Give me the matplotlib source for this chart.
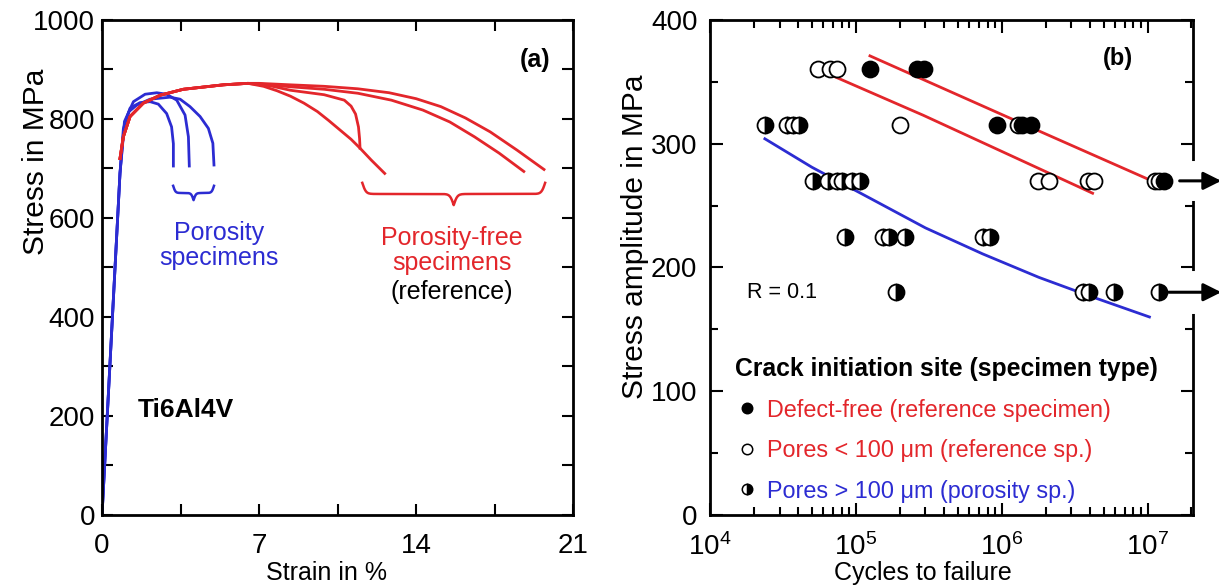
import matplotlib
matplotlib.use('Agg')
import matplotlib.pyplot as plt
import numpy as np
from matplotlib.lines import Line2D
from matplotlib.ticker import MultipleLocator, LogLocator, NullFormatter

plt.rcParams['font.family'] = ['Liberation Sans', 'DejaVu Sans']
plt.rcParams['mathtext.default'] = 'regular'
plt.rcParams['font.size'] = 20

RED = '#e3262b'
BLUE = '#2c2cd2'

# ---- (a) tensile curves: strain in %, stress in MPa ----
blue_a_strain = [0, 0.8, 0.95, 1.25, 1.69, 2.14, 2.51, 2.88, 3.10, 3.18, 3.18]
blue_a_stress = [0, 690, 780, 822, 833, 835, 830, 811, 784, 750, 705]
blue_b_strain = [0, 0.8, 1.0, 1.40, 1.92, 2.44, 2.88, 3.33, 3.70, 3.85, 3.89]
blue_b_stress = [0, 690, 795, 835, 850, 853, 850, 838, 808, 764, 705]
blue_c_strain = [0, 0.8, 1.0, 1.2, 1.55, 2.14, 3.03, 3.48, 3.92, 4.37, 4.74, 4.94, 4.99]
blue_c_stress = [0, 690, 790, 815, 828, 840, 844, 840, 825, 805, 781, 751, 707]

red_start_strain = [0.8, 0.95, 1.25, 1.84, 2.59, 3.62, 5.41, 6.5]
red_start_stress = [720, 764, 805, 832, 848, 860, 869, 872]
red1_strain = [7.2, 7.8, 8.4, 9.0, 9.6, 10.1, 10.6, 11.1, 11.5, 12.0, 12.6]
red1_stress = [866, 857, 846, 832, 815, 797, 778, 759, 741, 717, 690]
red2_strain = [7.5, 8.4, 9.9, 10.8, 11.1, 11.3, 11.43, 11.48, 11.5]
red2_stress = [867, 858, 849, 838, 826, 810, 784, 760, 741]
red3_strain = [7.0, 8.4, 9.9, 11.4, 12.9, 14.3, 15.5, 16.6, 17.7, 18.8]
red3_stress = [871, 865, 860, 852, 838, 818, 794, 764, 731, 694]
red4_strain = [7.0, 8.4, 9.9, 11.4, 12.8, 14.0, 15.1, 16.2, 17.3, 18.5, 19.7]
red4_stress = [872, 869, 866, 861, 853, 841, 825, 802, 774, 737, 698]

# ---- (b) S-N data: cycles, stress amplitude in MPa ----
free_N = [1.25e5, 2.62e5, 2.95e5, 9.3e5, 1.38e6, 1.6e6, 1.3e7]
free_S = [360, 360, 360, 315, 315, 315, 270]
small_N = [5.5e4, 6.7e4, 7.4e4, 2.0e5, 1.29e6, 1.78e6, 2.1e6, 3.9e6, 4.3e6, 1.12e7, 1.2e7]
small_S = [360, 360, 360, 315, 315, 270, 270, 270, 270, 270, 270]
large_N = [2.38e4, 3.4e4, 3.7e4, 4.1e4,
           5.07e4, 6.4e4, 7.4e4, 8.1e4, 9.4e4, 1.07e5,
           8.4e4, 1.53e5, 1.7e5, 2.17e5, 7.4e5, 8.3e5,
           1.9e5, 3.6e6, 3.96e6, 5.9e6, 1.2e7]
large_S = [315, 315, 315, 315,
           270, 270, 270, 270, 270, 270,
           225, 225, 225, 225, 225, 225,
           180, 180, 180, 180, 180]

fit_free_N = [1.25e5, 1.4e6, 9.8e6]
fit_free_S = [371, 316, 272]
fit_small_N = [6.6e4, 2.9e5, 4.2e6]
fit_small_S = [356, 323, 260]
fit_large_N = [2.38e4, 5e4, 1.25e5, 3e5, 7.4e5, 1.8e6, 4.0e6, 1.03e7]
fit_large_S = [304, 281, 256, 232, 211, 192, 177, 160]

runout_S = [270, 180]
runout_start = [1.66e7, 1.4e7]


def brace(ax, x0, x1, y_top, y_tip, color, k):
    t = np.linspace(0, 0.5, 100)
    h = 1 / (1 + np.exp(-k * t)) + 1 / (1 + np.exp(-k * (t - 0.5)))
    h = (h - h[0]) / (h[-1] - h[0])
    xs = np.concatenate([t, 1 - t[::-1]])
    hs = np.concatenate([h, h[::-1]])
    ax.plot(x0 + xs * (x1 - x0), y_top - hs * (y_top - y_tip), color=color, lw=1.8)


fig = plt.figure(figsize=(12.19, 5.86), dpi=100)
ax1 = fig.add_axes([0.0837, 0.1212, 0.3865, 0.8447])
ax2 = fig.add_axes([0.5824, 0.1212, 0.3963, 0.8447])

# ---------- panel (a) ----------
lw = 2.0
for s, t in [(blue_a_strain, blue_a_stress), (blue_b_strain, blue_b_stress), (blue_c_strain, blue_c_stress)]:
    ax1.plot(s, t, color=BLUE, lw=lw, solid_joinstyle='round')
for s, t in [(red1_strain, red1_stress), (red2_strain, red2_stress),
             (red3_strain, red3_stress), (red4_strain, red4_stress)]:
    ax1.plot(red_start_strain + s, red_start_stress + t, color=RED, lw=lw, solid_joinstyle='round')

brace(ax1, 3.17, 4.99, 665, 636, BLUE, 36)
brace(ax1, 11.6, 19.75, 671, 626, RED, 100)

ax1.text(5.2, 545, 'Porosity\nspecimens', color=BLUE, fontsize=18, ha='center', va='center',
         linespacing=1.05)
ax1.text(15.6, 535, 'Porosity-free\nspecimens', color=RED, fontsize=18, ha='center', va='center',
         linespacing=1.05)
ax1.text(15.6, 450, '(reference)', color='black', fontsize=18, ha='center', va='center')
ax1.text(1.6, 212, 'Ti6Al4V', fontsize=19, fontweight='bold', va='center')
ax1.text(20.0, 920, '(a)', fontsize=18, fontweight='bold', ha='right', va='center')

ax1.set_xlim(0, 21)
ax1.set_ylim(0, 1000)
ax1.set_xticks([0, 7, 14, 21])
ax1.xaxis.set_minor_locator(MultipleLocator(3.5))
ax1.yaxis.set_major_locator(MultipleLocator(200))
ax1.yaxis.set_minor_locator(MultipleLocator(100))
ax1.tick_params(which='both', direction='in', top=True, right=True, length=8, width=1.5)
ax1.tick_params(axis='x', pad=13)
ax1.tick_params(axis='y', pad=5)
ax1.set_xlabel('Strain in %', fontsize=18)
ax1.set_ylabel('Stress in MPa', fontsize=21.5)
ax1.xaxis.set_label_coords(0.476, -0.093)
ax1.yaxis.set_label_coords(-0.110, 0.713)

# ---------- panel (b) ----------
ax2.set_xscale('log')
ax2.plot(fit_free_N, fit_free_S, color=RED, lw=2)
ax2.plot(fit_small_N, fit_small_S, color=RED, lw=2)
ax2.plot(fit_large_N, fit_large_S, color=BLUE, lw=2)

ms = 11.5
ax2.plot(large_N, large_S, 'o', ms=ms, mec='black', mew=1.3, mfc='black',
         fillstyle='right', markerfacecoloralt='white')
ax2.plot(small_N, small_S, 'o', ms=ms, mec='black', mew=1.3, mfc='white')
ax2.plot(free_N, free_S, 'o', ms=ms, mec='black', mew=1.3, mfc='black')

xmax = 2.05e7
# gaps in the right spine where the run-out arrows pass
for y0, y1 in [(257, 284), (166, 195)]:
    ax2.plot([xmax, xmax], [y0, y1], color='white', lw=5, clip_on=False, zorder=3)
for y, x0 in zip(runout_S, runout_start):
    ax2.annotate('', xy=(3.2e7, y), xytext=(x0, y), annotation_clip=False, zorder=6,
                 arrowprops=dict(arrowstyle='-|>', color='black', lw=2.2, mutation_scale=27,
                                 shrinkA=0, shrinkB=0))

ax2.text(1.8e4, 180, 'R = 0.1', fontsize=15.5, va='center')
ax2.text(6.3e6, 369, '(b)', fontsize=17, fontweight='bold', ha='center', va='center')

handles = [
    Line2D([], [], ls='none', marker='o', ms=7.5, mec='black', mfc='black', mew=1.1),
    Line2D([], [], ls='none', marker='o', ms=7.5, mec='black', mfc='white', mew=1.1),
    Line2D([], [], ls='none', marker='o', ms=7.5, mec='black', mfc='black', mew=1.1,
           fillstyle='right', markerfacecoloralt='white'),
]
labels = ['Defect-free (reference specimen)',
          'Pores < 100 \u03bcm (reference sp.)',
          'Pores > 100 \u03bcm (porosity sp.)']
leg = ax2.legend(handles, labels, title='Crack initiation site (specimen type)',
                 title_fontproperties={'weight': 'bold', 'size': 17.8},
                 loc='upper left', bbox_to_anchor=(0.052, 0.319), frameon=False,
                 fontsize=16.8, labelcolor=[RED, RED, BLUE], alignment='left',
                 handlelength=1.0, handletextpad=0.35, labelspacing=0.75,
                 borderpad=0, borderaxespad=0)

ax2.set_xlim(1e4, xmax)
ax2.set_ylim(0, 400)
ax2.xaxis.set_major_locator(LogLocator(base=10, numticks=10))
ax2.xaxis.set_minor_locator(LogLocator(base=10, subs=np.arange(2, 10), numticks=10))
ax2.xaxis.set_minor_formatter(NullFormatter())
ax2.yaxis.set_major_locator(MultipleLocator(100))
ax2.yaxis.set_minor_locator(MultipleLocator(50))
ax2.tick_params(which='both', direction='in', top=True, right=True, width=1.5)
ax2.tick_params(which='major', length=9)
ax2.tick_params(which='minor', length=6)
ax2.tick_params(axis='x', pad=13)
ax2.tick_params(axis='y', pad=9)
ax2.set_xlabel('Cycles to failure', fontsize=18)
ax2.set_ylabel('Stress amplitude in MPa', fontsize=21.5)
ax2.xaxis.set_label_coords(0.44, -0.093)
ax2.yaxis.set_label_coords(-0.126, 0.562)

for ax in (ax1, ax2):
    for sp in ax.spines.values():
        sp.set_linewidth(2)

fig.savefig('out.png', dpi=100)
